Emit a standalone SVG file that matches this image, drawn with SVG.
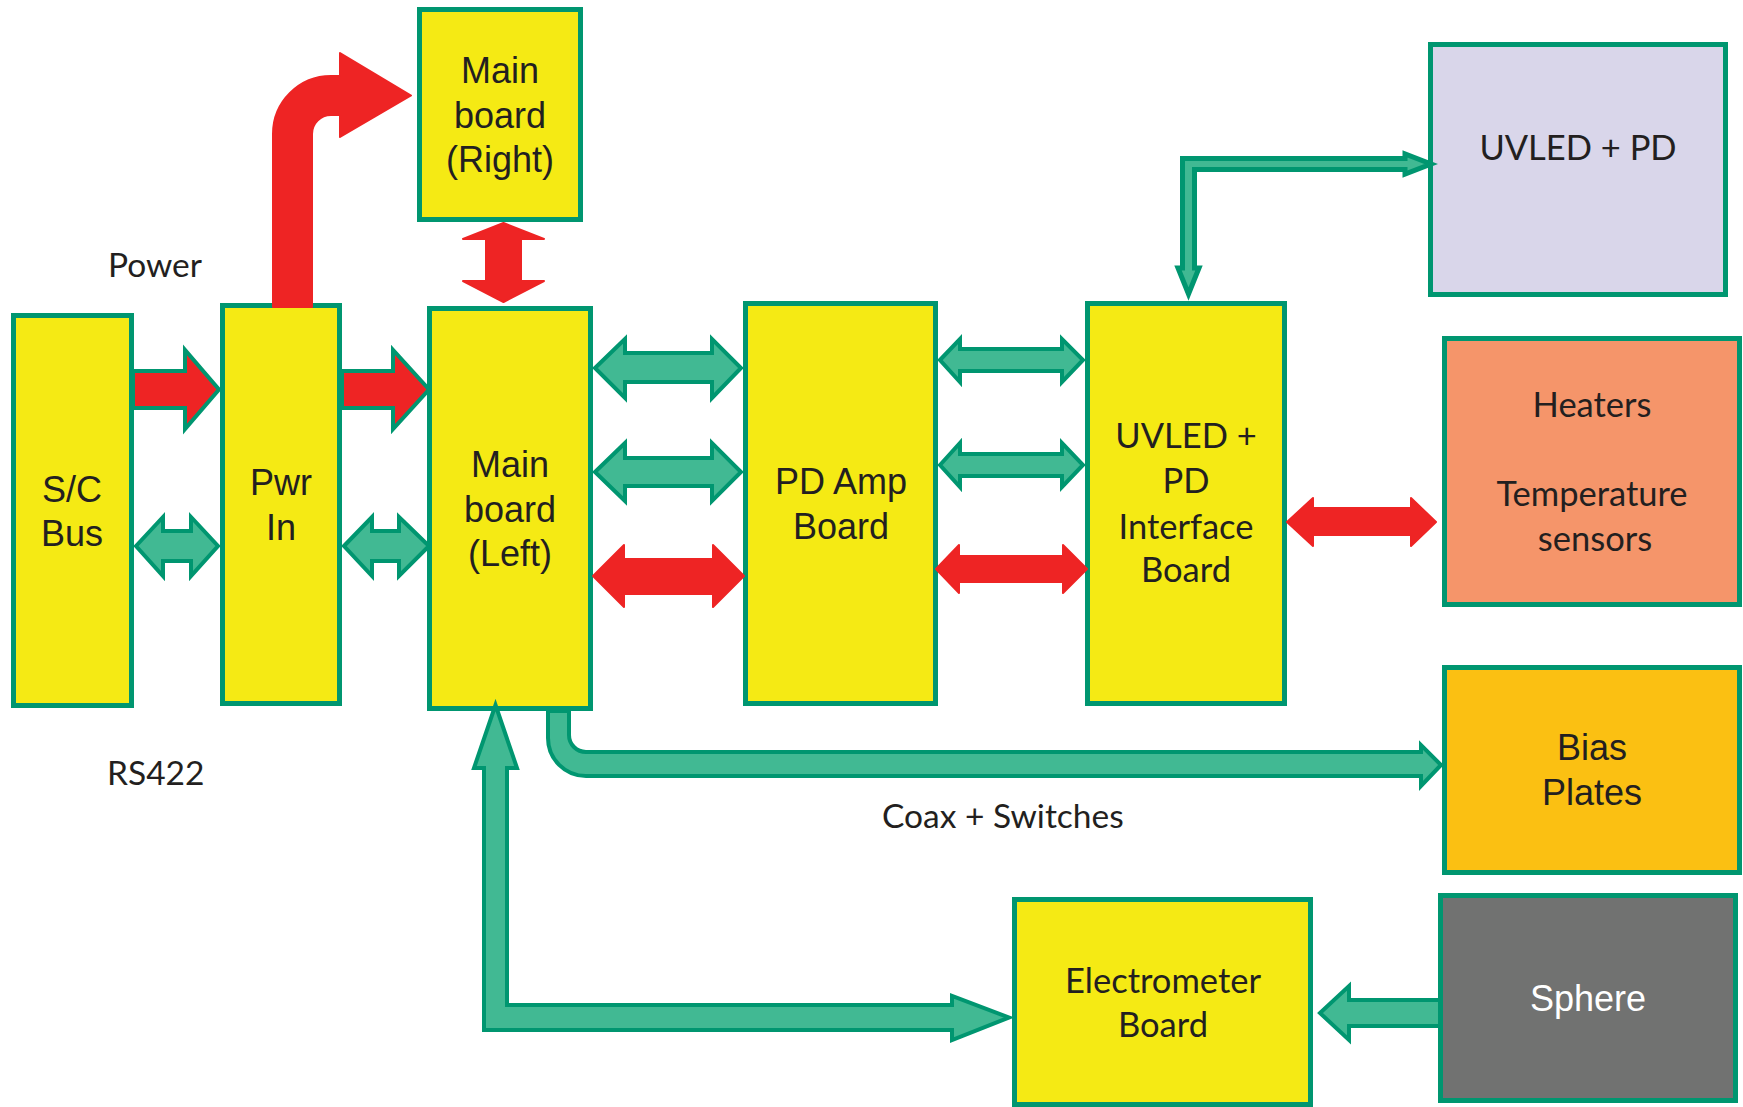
<svg xmlns="http://www.w3.org/2000/svg" width="1743" height="1107" viewBox="0 0 1743 1107">
<style>
.box{stroke:#009670;stroke-width:5;}
.y{fill:#F5EA14;}
.t{font-family:"Liberation Sans",Arial,sans-serif;font-size:36px;fill:#231F20;text-anchor:middle;}
.c{font-family:Lato,"Open Sans",sans-serif;font-size:34.5px;fill:#231F20;text-anchor:middle;}
.lbl{font-family:Lato,"Open Sans",sans-serif;font-size:33.5px;fill:#231F20;}
.g{fill:#41B993;stroke:#009670;stroke-width:4;stroke-linejoin:miter;}
.gt{fill:#41B993;stroke:#009670;stroke-width:5;stroke-linejoin:miter;}
.r{fill:#EE2424;stroke:#EE2424;stroke-width:2;stroke-linejoin:round;}
.rg{fill:#EE2424;stroke:#009670;stroke-width:4;}
</style>
<rect width="1743" height="1107" fill="#FFFFFF"/>
<g id="sc-bus"><rect class="box y" x="13.5" y="315.5" width="118" height="390"/><text class="t" x="72" y="502">S/C</text><text class="t" x="72" y="546">Bus</text></g>
<g id="pwr-in"><rect class="box y" x="222.5" y="305.5" width="117" height="398"/><text class="t" x="281" y="495">Pwr</text><text class="t" x="281" y="540">In</text></g>
<g id="main-left"><rect class="box y" x="429.5" y="308.5" width="161" height="400"/><text class="t" x="510" y="477">Main</text><text class="t" x="510" y="522">board</text><text class="t" x="510" y="566">(Left)</text></g>
<g id="main-right"><rect class="box y" x="419.5" y="9.5" width="161" height="210"/><text class="t" x="500" y="83">Main</text><text class="t" x="500" y="128">board</text><text class="t" x="500" y="172">(Right)</text></g>
<g id="pd-amp"><rect class="box y" x="745.5" y="303.5" width="190" height="400"/><text class="t" x="841" y="494">PD Amp</text><text class="t" x="841" y="539">Board</text></g>
<g id="interface"><rect class="box y" x="1087.5" y="303.5" width="197" height="400"/><text class="c" x="1186" y="448">UVLED +</text><text class="c" x="1186" y="493">PD</text><text class="c" x="1186" y="539">Interface</text><text class="c" x="1186" y="582">Board</text></g>
<g id="uvled-pd"><rect class="box" fill="#D9D6EA" x="1430.5" y="44.5" width="295" height="250"/><text class="c" x="1578" y="160">UVLED + PD</text></g>
<g id="heaters"><rect class="box" fill="#F5956A" x="1444.5" y="338.5" width="295" height="266"/><text class="c" x="1592" y="417">Heaters</text><text class="c" x="1592" y="506">Temperature</text><text class="c" x="1595" y="551">sensors</text></g>
<g id="bias"><rect class="box" fill="#FBC012" x="1444.5" y="667.5" width="295" height="205"/><text class="t" x="1592" y="760">Bias</text><text class="t" x="1592" y="805">Plates</text></g>
<g id="sphere"><rect class="box" fill="#717271" x="1440.5" y="895.5" width="295" height="205"/><text class="t" x="1588" y="1011" style="fill:#FFFFFF">Sphere</text></g>
<g id="electrometer"><rect class="box y" x="1014.5" y="899.5" width="296" height="205"/><text class="c" x="1163" y="993">Electrometer</text><text class="c" x="1163" y="1037">Board</text></g>
<g id="labels">
<text class="lbl" x="108" y="277">Power</text>
<text class="lbl" x="107" y="785">RS422</text>
<text class="lbl" x="882" y="828">Coax + Switches</text>
</g>
<g id="connectors">
<path class="r" d="M273 307 L273 134 A58 58 0 0 1 331 76 L340 76 L340 53 L411 95.5 L340 137 L340 115 L331 115 A19 19 0 0 0 312 134 L312 307 Z"/>
<path class="r" d="M503.5 223 L544 239 L521 239 L521 281 L544 281 L503.5 302 L463 281 L486 281 L486 239 L463 239 Z"/>
<path class="rg" d="M133 371 L185 371 L185 350 L219 389.5 L185 429 L185 408 L133 408 Z"/>
<path class="rg" d="M342 371 L393 371 L393 350 L429 389.5 L393 429 L393 408 L342 408 Z"/>
<path class="g" d="M136 546 L163 517 L163 531 L191 531 L191 517 L218 546 L191 576 L191 561 L163 561 L163 576 Z"/>
<path class="g" d="M344 546 L372 517 L372 531 L399 531 L399 517 L429 546 L399 576 L399 561 L372 561 L372 576 Z"/>
<path class="g" d="M595 368 L625 339 L625 353 L712 353 L712 339 L741 368 L712 398 L712 382 L625 382 L625 398 Z"/>
<path class="g" d="M595 472 L625 443 L625 458 L712 458 L712 443 L741 472 L712 501 L712 486 L625 486 L625 501 Z"/>
<path class="r" d="M593 576 L624 545 L624 559 L713 559 L713 545 L744 576 L713 607 L713 594 L624 594 L624 607 Z"/>
<path class="g" d="M940 360 L960 339 L960 349 L1062 349 L1062 339 L1083 360 L1062 382 L1062 371 L960 371 L960 382 Z"/>
<path class="g" d="M940 465 L960 443 L960 454 L1062 454 L1062 443 L1083 465 L1062 487 L1062 476 L960 476 L960 487 Z"/>
<path class="r" d="M936 569 L959 545 L959 556 L1063 556 L1063 545 L1087 569 L1063 593 L1063 582 L959 582 L959 593 Z"/>
<path class="r" d="M1287 522 L1313 498 L1313 508 L1411 508 L1411 498 L1436 522 L1411 546 L1411 535 L1313 535 L1313 546 Z"/>
<path class="gt" d="M1182.5 158.5 L1405 158.5 L1405 154 L1431 164 L1405 174 L1405 169.5 L1194.5 169.5 L1194.5 268 L1199 268 L1188.5 294 L1178 268 L1182.5 268 Z"/>
<path class="g" d="M569 711 L569 735 A17 17 0 0 0 586 752 L1421 752 L1421 745 L1441 765 L1421 786 L1421 776 L586 776 A38 38 0 0 1 548 738 L548 711 Z"/>
<path class="g" d="M495.5 705 L517 768 L507 768 L507 1005 L952 1005 L952 996 L1009 1017.5 L952 1040 L952 1030 L484 1030 L484 768 L474 768 Z"/>
<path class="g" d="M1438 1000 L1349 1000 L1349 986 L1320 1013 L1349 1040 L1349 1026 L1438 1026"/>
</g>
</svg>
